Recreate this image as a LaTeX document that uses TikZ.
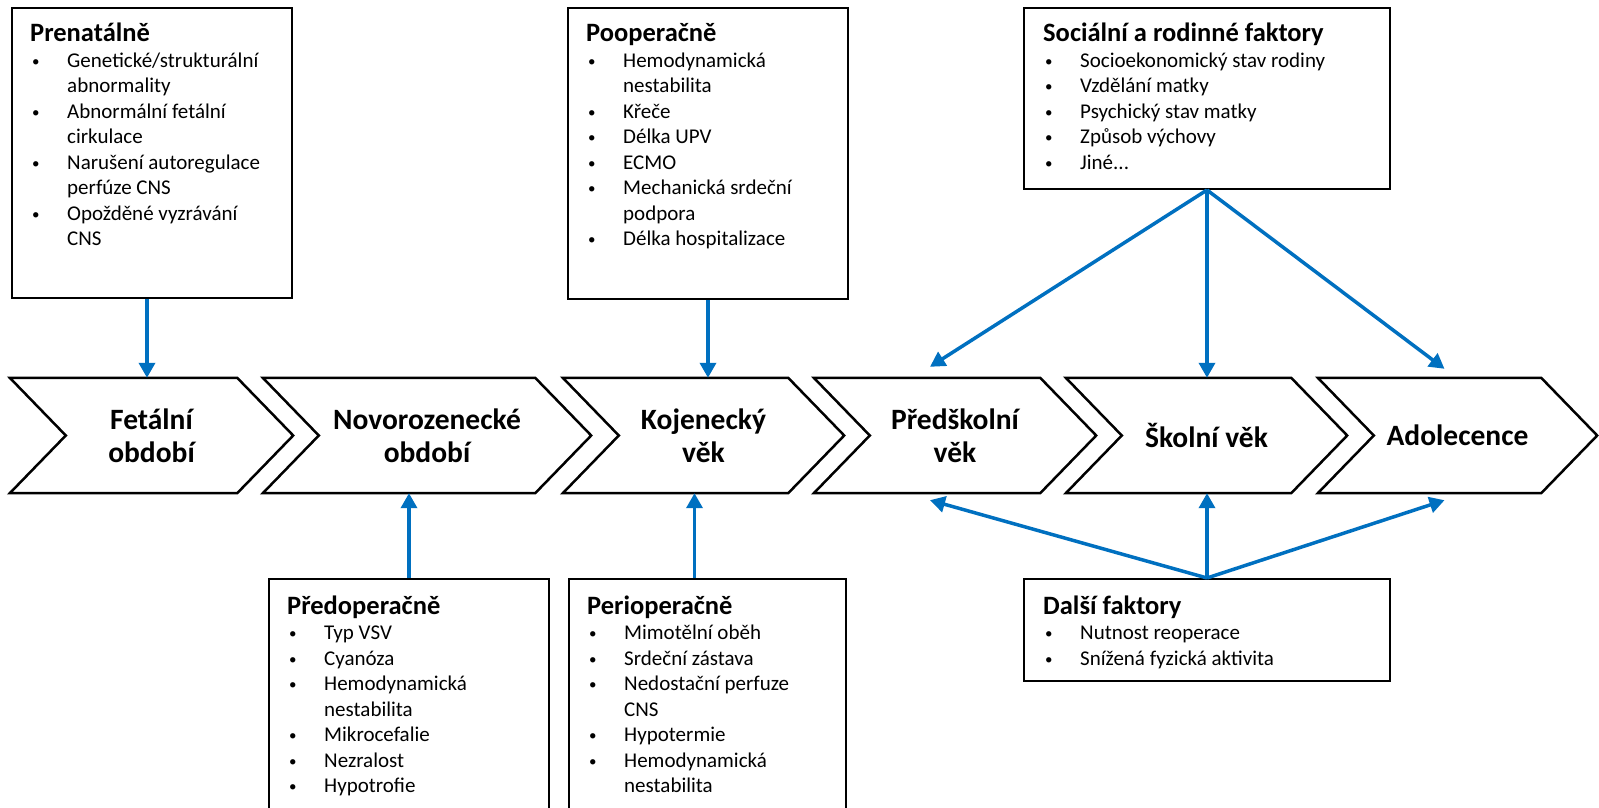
\documentclass[tikz,border=0pt]{standalone}
\usepackage{fontspec}
\setmainfont{Carlito}
\usetikzlibrary{arrows.meta,calc}
\definecolor{arrblue}{RGB}{0,112,192}
\newcommand\bi[1]{\makebox[37pt][l]{\hspace{2pt}\raisebox{1pt}{\fontsize{15}{15}\selectfont\textbullet}}#1\\}
\newcommand\ci[1]{\hspace*{37pt}#1\\}
\newcommand\hd[1]{{\fontsize{26.5}{25.5}\selectfont\bfseries #1}\\}
\newcommand\chevpath[1]{\draw[chevline] (#1.north west) -- ([xshift=-56pt]#1.north east) -- (#1.east) -- ([xshift=-56pt]#1.south east) -- (#1.south west) -- ([xshift=56pt]#1.west) -- cycle;}
\begin{document}
\begin{tikzpicture}[x=1pt,y=-1pt,
  box/.style={draw=black,line width=2pt,inner sep=0,anchor=north west},
  boxtext/.style={anchor=base west,inner sep=0,font=\fontsize{21}{25.5}\selectfont},
  chevn/.style={inner sep=0,minimum height=115pt,align=center,font=\fontsize{29.5}{33}\selectfont\bfseries},
  chevline/.style={draw=black,line width=2.5pt,line join=miter},
  arr/.style={draw=arrblue,line width=3.5pt,-{Triangle[length=15pt,width=16pt]}}]
\useasboundingbox (0,0) rectangle (1599,808);
\clip (0,0) rectangle (1599,808);
\fill[white] (0,0) rectangle (1599,808);

% chevrons
\node[chevn,minimum width=283pt] (c1) at (151.5,435.5) {Fetální\\období};
\node[chevn,minimum width=328pt] (c2) at (427,435.5) {Novorozenecké\\období};
\node[chevn,minimum width=281pt] (c3) at (703.5,435.5) {Kojenecký\\věk};
\node[chevn,minimum width=282pt] (c4) at (955,435.5) {Předškolní\\věk};
\node[chevn,minimum width=281pt] (c5) at (1206.5,435.5) {Školní věk};
\node[chevn,minimum width=279pt] (c6) at (1457.5,435.5) {Adolecence};
\chevpath{c1}\chevpath{c2}\chevpath{c3}\chevpath{c4}\chevpath{c5}\chevpath{c6}

% boxes
\node[box,minimum width=280pt,minimum height=290pt] (pre) at (11,7) {};
\node[boxtext] (preT) at ($(pre.north west)+(19,35)$) {\begin{tabular}[t]{@{}l@{}}
\hd{Prenatálně}
\bi{Genetické/strukturální}
\ci{abnormality}
\bi{Abnormální fetální}
\ci{cirkulace}
\bi{Narušení autoregulace}
\ci{perfúze CNS}
\bi{Opožděné vyzrávání}
\ci{CNS}
\end{tabular}};

\node[box,minimum width=280pt,minimum height=291pt] (poo) at (567,7) {};
\node[boxtext] (pooT) at ($(poo.north west)+(19,35)$) {\begin{tabular}[t]{@{}l@{}}
\hd{Pooperačně}
\bi{Hemodynamická}
\ci{nestabilita}
\bi{Křeče}
\bi{Délka UPV}
\bi{ECMO}
\bi{Mechanická srdeční}
\ci{podpora}
\bi{Délka hospitalizace}
\end{tabular}};

\node[box,minimum width=366pt,minimum height=181pt] (soc) at (1023,7) {};
\node[boxtext] (socT) at ($(soc.north west)+(20,35)$) {\begin{tabular}[t]{@{}l@{}}
\hd{Sociální a rodinné faktory}
\bi{Socioekonomický stav rodiny}
\bi{Vzdělání matky}
\bi{Psychický stav matky}
\bi{Způsob výchovy}
\bi{Jiné.{}.{}.}
\end{tabular}};

\node[box,minimum width=280pt,minimum height=240pt] (pred) at (268,578) {};
\node[boxtext] (predT) at ($(pred.north west)+(19,36)$) {\begin{tabular}[t]{@{}l@{}}
\hd{Předoperačně}
\bi{Typ VSV}
\bi{Cyanóza}
\bi{Hemodynamická}
\ci{nestabilita}
\bi{Mikrocefalie}
\bi{Nezralost}
\bi{Hypotrofie}
\end{tabular}};

\node[box,minimum width=277pt,minimum height=240pt] (peri) at (568,578) {};
\node[boxtext] (periT) at ($(peri.north west)+(19,36)$) {\begin{tabular}[t]{@{}l@{}}
\hd{Perioperačně}
\bi{Mimotělní oběh}
\bi{Srdeční zástava}
\bi{Nedostační perfuze}
\ci{CNS}
\bi{Hypotermie}
\bi{Hemodynamická}
\ci{nestabilita}
\end{tabular}};

\node[box,minimum width=366pt,minimum height=102pt] (dal) at (1023,578) {};
\node[boxtext] (dalT) at ($(dal.north west)+(20,36)$) {\begin{tabular}[t]{@{}l@{}}
\hd{Další faktory}
\bi{Nutnost reoperace}
\bi{Snížená fyzická aktivita}
\end{tabular}};

% connectors
\draw[arr] ([xshift=-5pt]pre.south) -- ([xshift=-5pt]pre.south |- c1.north);
\draw[arr] (poo.south) -- (poo.south |- c3.north);
\draw[arr] (pred.north) -- (pred.north |- c2.south);
\draw[arr] ([xshift=-13pt]peri.north) -- ([xshift=-13pt]peri.north |- c3.south);
\draw[arr] (soc.south) -- ([xshift=-25pt,yshift=11pt]c4.north);
\draw[arr] (soc.south) -- (soc.south |- c5.north);
\draw[arr] (soc.south) -- ([xshift=-13pt,yshift=9pt]c6.north);
\draw[arr] (dal.north) -- ([xshift=-25pt,yshift=-7pt]c4.south);
\draw[arr] (dal.north) -- (dal.north |- c5.south);
\draw[arr] (dal.north) -- ([xshift=-13pt,yshift=-7pt]c6.south);
\end{tikzpicture}
\end{document}
